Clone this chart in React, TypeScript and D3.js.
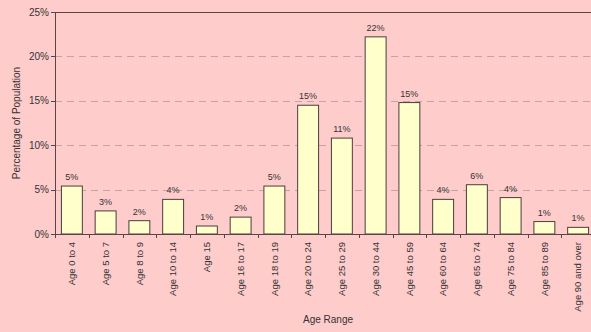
import React from "react";
import * as d3 from "d3";

const categories = [
  "Age 0 to 4", "Age 5 to 7", "Age 8 to 9", "Age 10 to 14", "Age 15",
  "Age 16 to 17", "Age 18 to 19", "Age 20 to 24", "Age 25 to 29", "Age 30 to 44",
  "Age 45 to 59", "Age 60 to 64", "Age 65 to 74", "Age 75 to 84", "Age 85 to 89",
  "Age 90 and over",
];
const values = [5.4, 2.6, 1.5, 3.9, 0.9, 1.9, 5.4, 14.5, 10.8, 22.2, 14.8, 3.9, 5.55, 4.1, 1.4, 0.75];
const valueLabels = ["5%", "3%", "2%", "4%", "1%", "2%", "5%", "15%", "11%", "22%", "15%", "4%", "6%", "4%", "1%", "1%"];
const yTicks = [0, 5, 10, 15, 20, 25];

const W = 591, H = 332;
const left = 55, top = 12, bottom = 234, right = 595;
const FONT = "'Liberation Sans', Arial, sans-serif";

export default function App() {
  const x = d3.scaleBand<string>().domain(categories).range([left, right]).paddingInner(0.38).paddingOuter(0.19);
  const y = d3.scaleLinear().domain([0, 25]).range([bottom, top]);
  const step = x.step();
  const boundaries = d3.range(categories.length + 1).map((i) => left + i * step);
  const axisColor = "#5a4545";
  return (
    <div style={{ position: "fixed", left: 0, top: 0 }}>
      <svg width={W} height={H} style={{ display: "block" }}>
        <rect x={0} y={0} width={W} height={H} fill="#ffcccc" />
        {yTicks.filter((t) => t > 0 && t < 25).map((t) => (
          <line key={t} x1={left} x2={right} y1={Math.round(y(t)) + 0.5} y2={Math.round(y(t)) + 0.5}
            stroke="#c8a2a2" strokeWidth={1} strokeDasharray="7,5" />
        ))}
        <line x1={left} x2={right} y1={top + 0.5} y2={top + 0.5} stroke={axisColor} strokeWidth={1} />
        {categories.map((c, i) => (
          <rect key={c} x={x(c)!} y={y(values[i])} width={x.bandwidth()} height={bottom - y(values[i])}
            fill="#ffffcc" stroke="#4a3c3c" strokeWidth={1} />
        ))}
        {categories.map((c, i) => (
          <text key={"v" + c} x={x(c)! + x.bandwidth() / 2} y={y(values[i]) - 6} textAnchor="middle"
            fontFamily={FONT} fontSize={9} fill="#333">{valueLabels[i]}</text>
        ))}
        <line x1={left + 0.5} x2={left + 0.5} y1={top} y2={bottom} stroke={axisColor} strokeWidth={1} />
        <line x1={left} x2={right} y1={bottom + 0.5} y2={bottom + 0.5} stroke={axisColor} strokeWidth={1} />
        {yTicks.map((t) => (
          <g key={"yt" + t}>
            <line x1={left - 4} x2={left} y1={Math.round(y(t)) + 0.5} y2={Math.round(y(t)) + 0.5} stroke={axisColor} />
            <text x={left - 6} y={y(t)} dy="0.35em" textAnchor="end" fontFamily={FONT} fontSize={10} fill="#333">{t}%</text>
          </g>
        ))}
        {boundaries.map((b, i) => (
          <line key={"xt" + i} x1={Math.round(b) + 0.5} x2={Math.round(b) + 0.5} y1={bottom} y2={bottom + 4} stroke={axisColor} />
        ))}
        {categories.map((c) => {
          const cx = x(c)! + x.bandwidth() / 2;
          return (
            <text key={"l" + c} transform={`translate(${cx},242) rotate(-90)`} textAnchor="end" dy="0.35em"
              fontFamily={FONT} fontSize={9.5} fill="#333">{c}</text>
          );
        })}
        <text transform={`translate(16,${(top + bottom) / 2}) rotate(-90)`} textAnchor="middle" dy="0.35em"
          fontFamily={FONT} fontSize={10} fill="#333">Percentage of Population</text>
        <text x={(left + right) / 2 + 3} y={319} dy="0.35em" textAnchor="middle" fontFamily={FONT} fontSize={10} fill="#333">Age Range</text>
      </svg>
    </div>
  );
}
